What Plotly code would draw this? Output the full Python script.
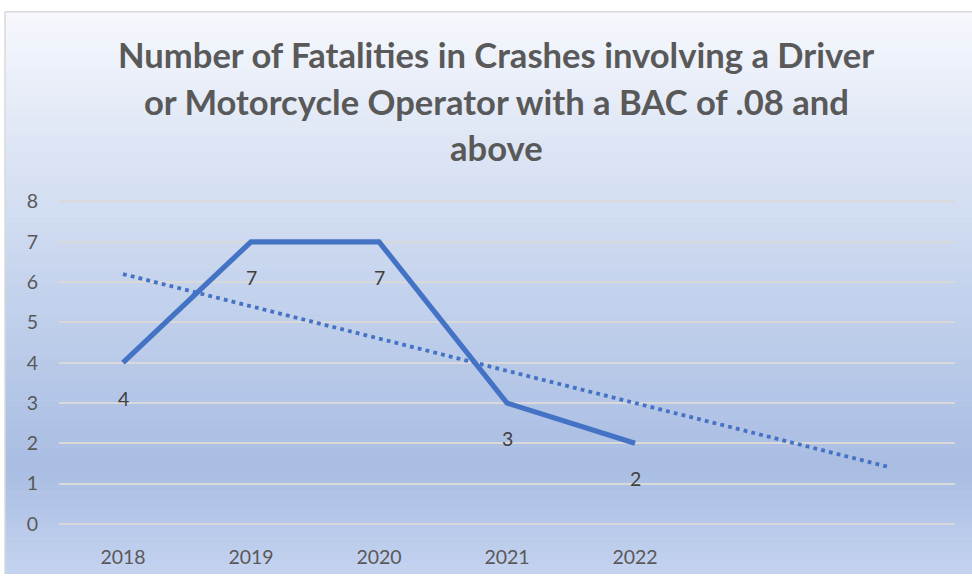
import plotly.graph_objects as go

# ---- data ----
years = [2018, 2019, 2020, 2021, 2022]
fatalities = [4, 7, 7, 3, 2]
tick_labels = ["2018", "2019", "2020", "2021", "2022"]
trend_x = [2018, 2024]
trend_y = [6.2, 1.4]
y_ticks = [0, 1, 2, 3, 4, 5, 6, 7, 8]
title_lines = ["Number of Fatalities in Crashes involving a Driver",
               "or Motorcycle Operator with a BAC of .08 and",
               "above"]

W, H = 972, 583
FONT = "Lato, 'Open Sans', sans-serif"
TXT = "#595959"
BLUE = "#4472c4"

def px_x(x):
    return x / W

def Q(p):
    # vertical pixel placement, compensating the capture's vertical mapping
    return (p - 9.3) / 0.972

fig = go.Figure()

fig.add_trace(go.Scatter(
    x=trend_x, y=trend_y, mode="lines",
    line=dict(color=BLUE, width=3.8, dash="3.8px,4.2px"),
    hoverinfo="skip", showlegend=False))

fig.add_trace(go.Scatter(
    x=years, y=fatalities, mode="lines",
    line=dict(color=BLUE, width=5.2),
    showlegend=False))

# ---- background gradient (chart box) ----
box_top, box_left = 11, 5
stops = [(0.0, (246, 248, 253)), (0.45, (200, 214, 238)), (0.81, (169, 189, 227)), (1.0, (196, 211, 239))]

def col_at(t):
    for (t0, c0), (t1, c1) in zip(stops[:-1], stops[1:]):
        if t0 <= t <= t1:
            f = (t - t0) / (t1 - t0) if t1 > t0 else 0
            return "rgb(%d,%d,%d)" % tuple(round(a + (b - a) * f) for a, b in zip(c0, c1))
    return "rgb(%d,%d,%d)" % stops[-1][1]

shapes = []
n = 110
q_top, q_bot = Q(box_top), H
for i in range(n):
    y0 = q_top + (q_bot - q_top) * i / n
    y1 = min(q_bot, q_top + (q_bot - q_top) * (i + 1) / n + 0.6)
    shapes.append(dict(type="rect", xref="paper", yref="paper",
                       x0=px_x(box_left), x1=1.0, y0=1 - y1 / H, y1=1 - y0 / H,
                       fillcolor=col_at((i + 0.5) / n), line=dict(width=0), layer="below"))
shapes.append(dict(type="line", xref="paper", yref="paper",
                   x0=px_x(box_left), x1=1.0, y0=1 - q_top / H, y1=1 - q_top / H,
                   line=dict(color="#d9d9d9", width=1.5), layer="below"))
shapes.append(dict(type="line", xref="paper", yref="paper",
                   x0=px_x(box_left), x1=px_x(box_left), y0=0, y1=1 - q_top / H,
                   line=dict(color="#d9d9d9", width=1.5), layer="below"))

TITLE_SIZE = 34.6
annotations = []
for line, base in zip(title_lines, [67.5, 114.0, 160.5]):
    yc = Q(base) - 0.387 * TITLE_SIZE
    annotations.append(dict(text="<b>%s</b>" % line, xref="paper", yref="paper",
                            x=px_x(496), y=1 - yc / H, xanchor="center", yanchor="middle",
                            showarrow=False, font=dict(family=FONT, size=TITLE_SIZE, color=TXT)))
for xv, yv in zip(years, fatalities):
    annotations.append(dict(text=str(yv), x=xv, y=yv, xref="x", yref="y",
                            yshift=-35.5, showarrow=False, xanchor="center", yanchor="middle",
                            font=dict(family=FONT, size=19.5, color="#404040")))

# gridline 8 at 201.7 px, gridline 0 at 525.7 px (reference), range padded by 0.05
g8, g0 = Q(201.7), Q(525.7)
unit = (g0 - g8) / 8
dom_bot = 1 - (g0 + 0.05 * unit) / H
dom_top = 1 - (g8 - 0.05 * unit) / H

fig.update_layout(
    width=W, height=H,
    margin=dict(l=0, r=0, t=0, b=0),
    paper_bgcolor="white",
    plot_bgcolor="rgba(0,0,0,0)",
    shapes=shapes,
    annotations=annotations,
    xaxis=dict(domain=[px_x(59), px_x(955)], range=[2017.5, 2024.5],
               tickvals=years, ticktext=tick_labels, showgrid=False, zeroline=False,
               showline=False, ticks="outside", ticklen=14, tickcolor="rgba(0,0,0,0)",
               tickfont=dict(family=FONT, size=19.5, color=TXT)),
    yaxis=dict(domain=[dom_bot, dom_top], range=[-0.05, 8.05], tickvals=y_ticks,
               showgrid=True, gridcolor="#d9d9d9", gridwidth=1.5, zeroline=False,
               showline=False, ticks="outside", ticklen=16, tickcolor="rgba(0,0,0,0)",
               tickfont=dict(family=FONT, size=19.5, color=TXT)),
)

post = ("var d=document.documentElement,b=document.body;"
        "d.style.margin='0';d.style.padding='0';d.style.overflow='hidden';"
        "b.style.margin='0';b.style.padding='0';b.style.overflow='hidden';"
        "d.style.background='linear-gradient(to right, #fff 0px, #fff 4px, #d9d9d9 4px, #d9d9d9 6px, transparent 6px), "
        "linear-gradient(to bottom, #fff 50%, rgb(196,211,239) 50%)';"
        "b.style.background='transparent';")

fig.write_html("out.html", config={"displayModeBar": False}, post_script=post)
